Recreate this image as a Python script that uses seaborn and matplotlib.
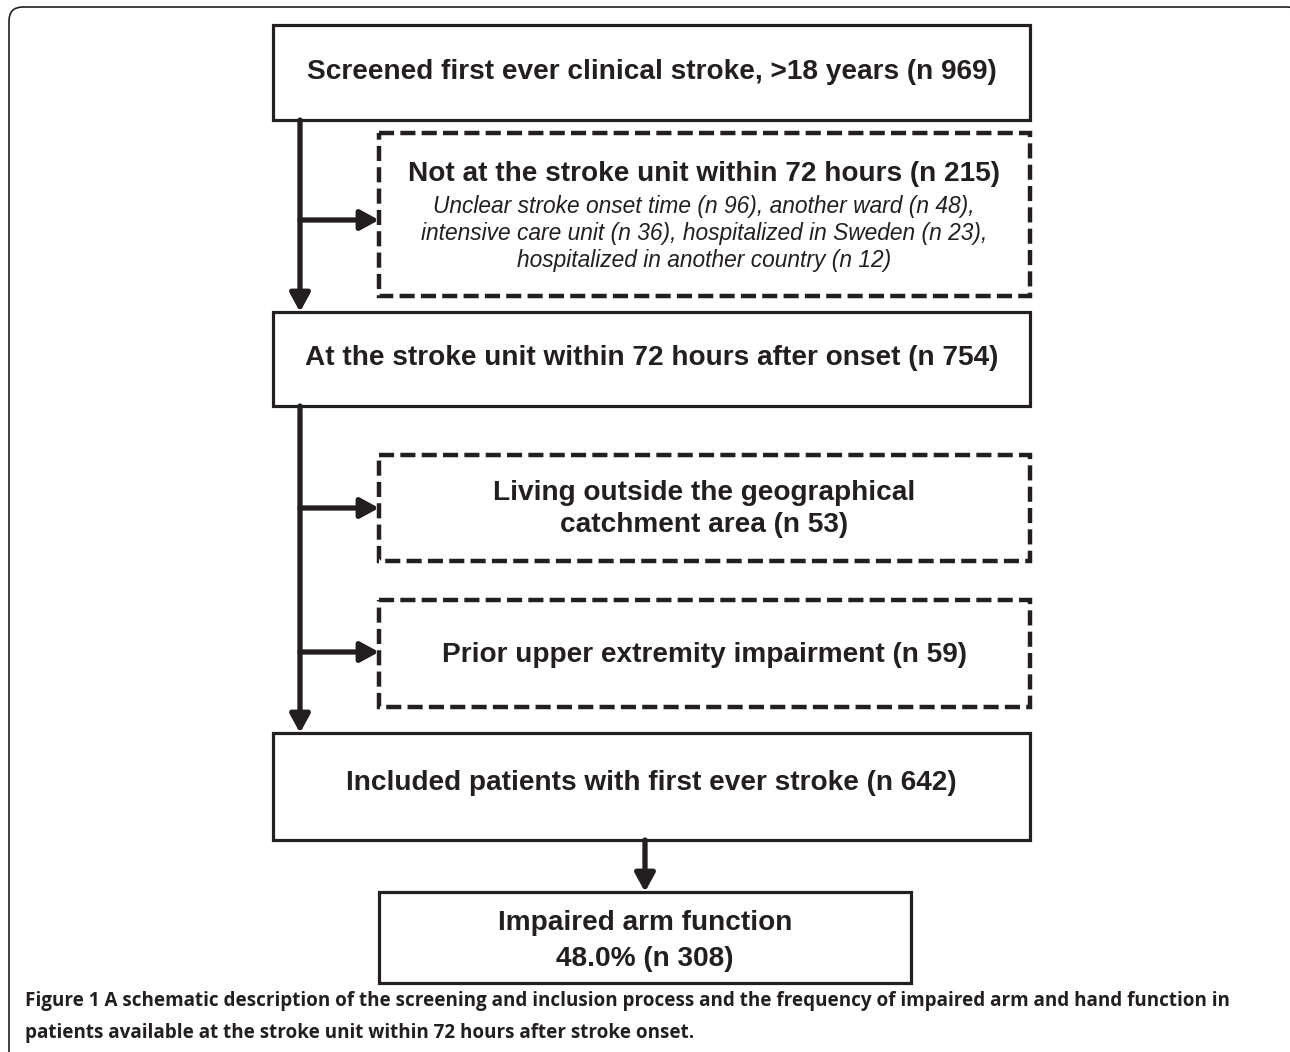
import matplotlib
matplotlib.use("Agg")
import matplotlib.pyplot as plt
import seaborn as sns
from matplotlib.patches import Rectangle, FancyBboxPatch

# Flowchart texts
box_titles = [
    "Screened first ever clinical stroke, >18 years (n 969)",
    "Not at the stroke unit within 72 hours (n 215)",
    "At the stroke unit within 72 hours after onset (n 754)",
    "Living outside the geographical\ncatchment area (n 53)",
    "Prior upper extremity impairment (n 59)",
    "Included patients with first ever stroke (n 642)",
    "Impaired arm function\n48.0% (n 308)",
]
excluded_details = [
    "Unclear stroke onset time (n 96), another ward (n 48),",
    "intensive care unit (n 36), hospitalized in Sweden (n 23),",
    "hospitalized in another country (n 12)",
]
caption_lines = [
    "Figure 1 A schematic description of the screening and inclusion process and the frequency of impaired arm and hand function in",
    "patients available at the stroke unit within 72 hours after stroke onset.",
]

sns.set_theme(style="white")
plt.rcParams["font.family"] = ["Liberation Sans", "DejaVu Sans"]

INK = "#231f20"
W, H = 1290, 1052

fig = plt.figure(figsize=(W / 100, H / 100), dpi=100)
ax = fig.add_axes([0, 0, 1, 1])
ax.set_xlim(0, W)
ax.set_ylim(H, 0)
ax.axis("off")

# outer frame (rounded, runs off the right/bottom edge)
frame = FancyBboxPatch((9, 7), 1292, 1200, boxstyle="round,pad=0,rounding_size=14",
                       fill=False, lw=1.2, ec=INK)
ax.add_patch(frame)

# box layout: (left, top, right, bottom, dashed)
layout = [
    (273, 25, 1030, 120, False),
    (379, 133, 1030, 296, True),
    (273, 312, 1030, 406, False),
    (379, 455, 1030, 561, True),
    (379, 600, 1030, 707, True),
    (273, 733, 1030, 840, False),
    (379, 892, 911, 983, False),
]
for (l, t, r, b, dashed) in layout:
    if dashed:
        ax.add_patch(Rectangle((l, t), r - l, b - t, fill=False, ec=INK, lw=3.2,
                               linestyle=(0, (3.4, 1.4)), joinstyle="miter"))
    else:
        ax.add_patch(Rectangle((l, t), r - l, b - t, fill=False, ec=INK, lw=2.3,
                               joinstyle="miter"))

text_y = [72, 174, 358, 509, 655, 783, 941]
spacing = [1.3, 1.3, 1.3, 1.3, 1.3, 1.3, 1.45]
for i, (l, t, r, b, dashed) in enumerate(layout):
    ax.text((l + r) / 2, text_y[i], box_titles[i], ha="center", va="center",
            fontsize=20.2, fontweight="bold", color=INK, linespacing=spacing[i])

for j, line in enumerate(excluded_details):
    ax.text(704, 206 + j * 27.5, line, ha="center", va="center", fontsize=16.4,
            fontstyle="italic", color=INK)

# arrows
arrow_kw = dict(arrowstyle="-|>,head_length=0.55,head_width=0.3", lw=3.8,
                color=INK, shrinkA=0, shrinkB=0, mutation_scale=20)


def arrow(x0, y0, x1, y1):
    ax.annotate("", xy=(x1, y1), xytext=(x0, y0), arrowprops=arrow_kw)


arrow(300, 120, 300, 312)
arrow(300, 220, 379, 220)
arrow(300, 406, 300, 733)
arrow(300, 508, 379, 508)
arrow(300, 652, 379, 652)
arrow(645, 840, 645, 892)

# caption
for k, line in enumerate(caption_lines):
    ax.text(25, 1001 + k * 32, line, ha="left", va="center", fontsize=13.6,
            fontweight="bold", color=INK, family=["Open Sans", "DejaVu Sans"])

fig.savefig("out.png", dpi=100)
